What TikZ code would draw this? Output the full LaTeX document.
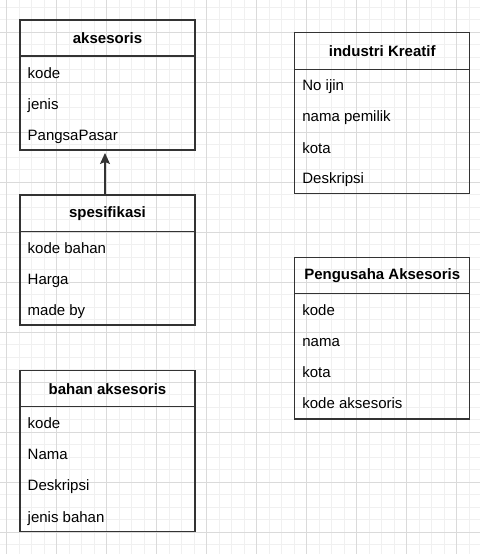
\documentclass[tikz,border=0pt]{standalone}
\usepackage{fontspec}
\setmainfont{Liberation Sans}
\usetikzlibrary{calc,arrows.meta}
\definecolor{gridminor}{HTML}{F0F0F0}
\definecolor{gridmajor}{HTML}{DADADA}
\definecolor{boxline}{HTML}{333333}
\begin{document}
\begin{tikzpicture}[x=1pt,y=-1pt,
  minorline/.style={gridminor,line width=1pt},
  majorline/.style={gridmajor,line width=1pt},
  hdr/.style={draw=boxline,line width=1.1pt,minimum width=175pt,inner sep=0pt,outer sep=0pt,anchor=north west,font=\fontsize{15}{18}\selectfont\bfseries},
  bodybox/.style={draw=boxline,line width=1.1pt,minimum width=175pt,inner sep=0pt,outer sep=0pt,anchor=north west},
  rowtxt/.style={anchor=base west,inner sep=0pt,font=\fontsize{15}{18}\selectfont},
  link/.style={draw=boxline,line width=1.2pt,-{Stealth[length=11pt,width=10pt,inset=2pt]},shorten >=3pt}
]
\useasboundingbox (0,0) rectangle (480,554);
\begin{scope}
\clip (0,0) rectangle (480,554);
\foreach \i in {0,...,38} \draw[minorline] (6.7+12.5*\i,0) -- (6.7+12.5*\i,554);
\foreach \j in {0,...,43} \draw[minorline] (0,7.3+12.5*\j) -- (480,7.3+12.5*\j);
\foreach \i in {0,...,9} \draw[majorline] (6.7+50*\i,0) -- (6.7+50*\i,554);
\foreach \j in {0,...,10} \draw[majorline] (0,32.3+50*\j) -- (480,32.3+50*\j);
\end{scope}

% aksesoris
\node[hdr,minimum height=36pt] (aksH) at (20,20) {aksesoris};
\node[bodybox,minimum height=94pt] (aksB) at (aksH.south west) {};
\node[rowtxt] (aks1) at ($(aksB.north west)+(7.5,22.2)$) {kode};
\node[rowtxt] (aks2) at ($(aksB.north west)+(7.5,53.5)$) {jenis};
\node[rowtxt] (aks3) at ($(aksB.north west)+(7.5,84.6)$) {PangsaPasar};

% spesifikasi
\node[hdr,minimum height=36.3pt] (spesH) at (20,195) {spesifikasi};
\node[bodybox,minimum height=93.7pt] (spesB) at (spesH.south west) {};
\node[rowtxt] (spes1) at ($(spesB.north west)+(7.5,22.2)$) {kode bahan};
\node[rowtxt] (spes2) at ($(spesB.north west)+(7.5,53.4)$) {Harga};
\node[rowtxt] (spes3) at ($(spesB.north west)+(7.5,84.6)$) {made by};

% bahan aksesoris
\node[hdr,minimum height=36pt] (bahH) at (20,370.7) {bahan aksesoris};
\node[bodybox,minimum height=125pt] (bahB) at (bahH.south west) {};
\node[rowtxt] (bah1) at ($(bahB.north west)+(7.5,21.8)$) {kode};
\node[rowtxt] (bah2) at ($(bahB.north west)+(7.5,53.0)$) {Nama};
\node[rowtxt] (bah3) at ($(bahB.north west)+(7.5,84.2)$) {Deskripsi};
\node[rowtxt] (bah4) at ($(bahB.north west)+(7.5,115.4)$) {jenis bahan};

% industri Kreatif
\node[hdr,minimum height=36.6pt] (indH) at (294.7,32.7) {industri Kreatif};
\node[bodybox,minimum height=124.4pt] (indB) at (indH.south west) {};
\node[rowtxt] (ind1) at ($(indB.north west)+(7.5,21.4)$) {No ijin};
\node[rowtxt] (ind2) at ($(indB.north west)+(7.5,52.6)$) {nama pemilik};
\node[rowtxt] (ind3) at ($(indB.north west)+(7.5,83.7)$) {kota};
\node[rowtxt] (ind4) at ($(indB.north west)+(7.5,114.5)$) {Deskripsi};

% Pengusaha Aksesoris
\node[hdr,minimum height=36pt] (pengH) at (294.7,257.7) {Pengusaha Aksesoris};
\node[bodybox,minimum height=125.3pt] (pengB) at (pengH.south west) {};
\node[rowtxt] (peng1) at ($(pengB.north west)+(7.5,21.6)$) {kode};
\node[rowtxt] (peng2) at ($(pengB.north west)+(7.5,52.8)$) {nama};
\node[rowtxt] (peng3) at ($(pengB.north west)+(7.5,84.0)$) {kota};
\node[rowtxt] (peng4) at ($(pengB.north west)+(7.5,115.2)$) {kode aksesoris};

% connector
\coordinate (arrx) at (105,0);
\draw[link] (spesH.north -| arrx) -- (aksB.south -| arrx);
\end{tikzpicture}
\end{document}
